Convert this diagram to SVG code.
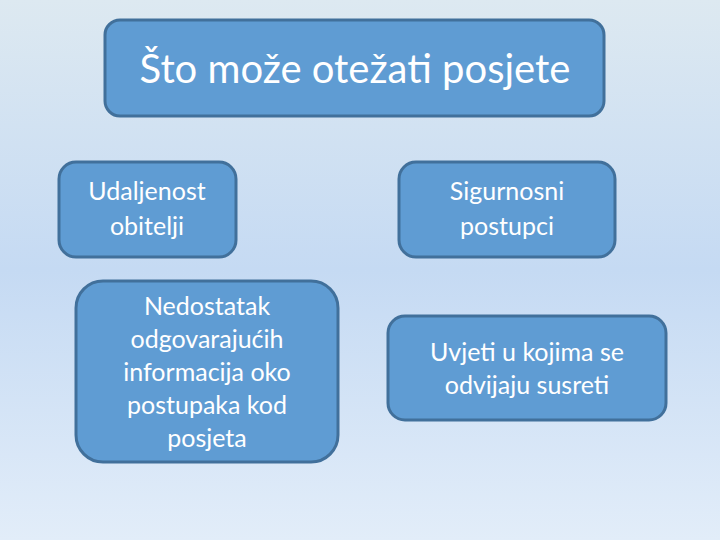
<svg xmlns="http://www.w3.org/2000/svg" width="720" height="540" viewBox="0 0 720 540">
<defs>
<linearGradient id="bg" x1="0" y1="0" x2="0" y2="1">
<stop offset="0" stop-color="#dde9f1"/>
<stop offset="0.5" stop-color="#c5daf3"/>
<stop offset="1" stop-color="#e2edf9"/>
</linearGradient>
</defs>
<style>
.box{fill:#5f9cd3;stroke:#41709b;stroke-width:3}
.t{fill:#ffffff;font-family:Lato,"Open Sans","Liberation Sans",sans-serif;text-anchor:middle;font-size:25px}
.title{font-size:40px}
</style>
<rect width="720" height="540" fill="url(#bg)"/>
<g id="title">
<rect class="box" x="105" y="20" width="499" height="96" rx="15"/>
<text class="t title" x="355" y="83">Što može otežati posjete</text>
</g>
<g id="udaljenost">
<rect class="box" x="59" y="162" width="177" height="95" rx="17"/>
<text class="t" x="147" y="200">Udaljenost</text>
<text class="t" x="147" y="235">obitelji</text>
</g>
<g id="sigurnosni">
<rect class="box" x="399" y="162" width="216" height="95" rx="17"/>
<text class="t" x="507" y="200">Sigurnosni</text>
<text class="t" x="507" y="235">postupci</text>
</g>
<g id="nedostatak">
<rect class="box" x="76" y="281" width="262" height="181" rx="27"/>
<text class="t" x="207" y="315">Nedostatak</text>
<text class="t" x="207" y="348">odgovarajućih</text>
<text class="t" x="207" y="381">informacija oko</text>
<text class="t" x="207" y="414">postupaka kod</text>
<text class="t" x="207" y="447">posjeta</text>
</g>
<g id="uvjeti">
<rect class="box" x="388" y="316" width="278" height="104" rx="17"/>
<text class="t" x="527" y="361">Uvjeti u kojima se</text>
<text class="t" x="527" y="394">odvijaju susreti</text>
</g>
<g id="connectors"></g>
</svg>
